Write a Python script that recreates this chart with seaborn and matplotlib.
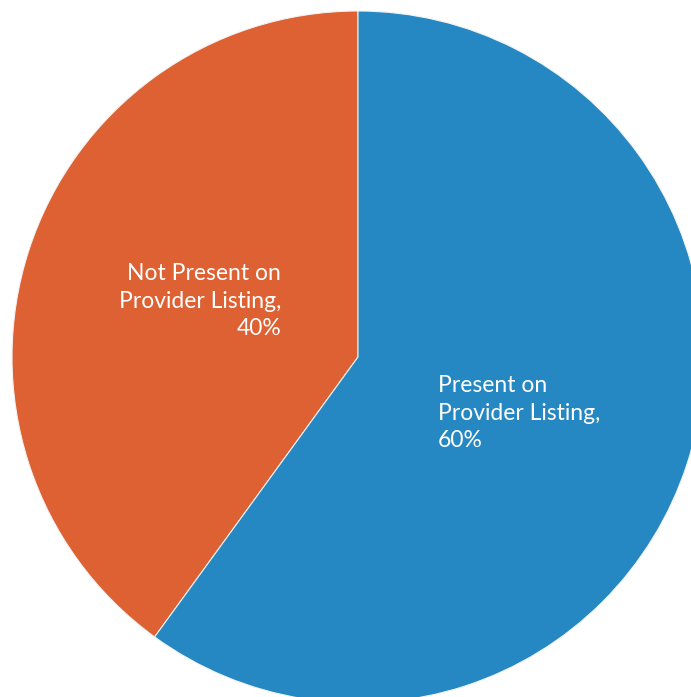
import matplotlib
matplotlib.use("Agg")
import matplotlib.pyplot as plt
import seaborn as sns

categories = ["Not Present on\nProvider Listing", "Present on\nProvider Listing"]
shares = [40, 60]
colors = ["#DD6132", "#2688C2"]

sns.set_theme(style="white")
plt.rcParams["font.family"] = ["Lato", "DejaVu Sans"]

W, H = 691, 697
fig = plt.figure(figsize=(W / 100, H / 100), dpi=100)
ax = fig.add_axes([0, 0, 1, 1])

# pie centre and radius in pixels; the pie runs off the right and bottom edges
cx, cy, r = 358, 357, 346

ax.pie(shares, colors=colors, startangle=90, counterclock=True, radius=1,
       wedgeprops=dict(edgecolor="#f2f2f2", linewidth=0.8))
ax.set_xlim(-cx / r, (W - cx) / r)
ax.set_ylim(-(H - cy) / r, cy / r)
ax.set_aspect("auto")
ax.axis("off")

def px(x, y):
    return (x - cx) / r, (cy - y) / r

labels = [f"{c},\n{v}%" for c, v in zip(categories, shares)]
x0, y0 = px(281, 301)
ax.text(x0, y0, labels[0], ha="right", va="center", color="white",
        fontsize=16.5, linespacing=1.36, multialignment="right")
x1, y1 = px(438, 413)
ax.text(x1, y1, labels[1], ha="left", va="center", color="white",
        fontsize=16.5, linespacing=1.36, multialignment="left")

fig.savefig("out.png", dpi=100, facecolor="white")
